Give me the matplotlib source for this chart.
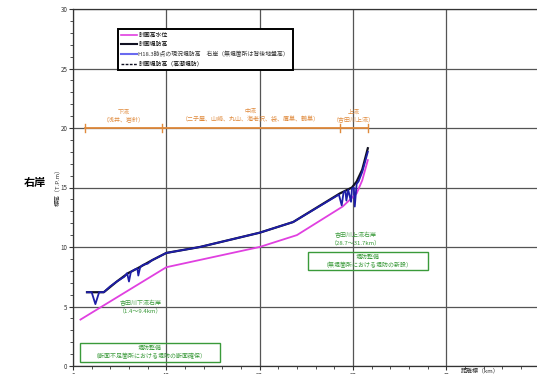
import matplotlib
matplotlib.use("Agg")
import matplotlib.pyplot as plt
from matplotlib.lines import Line2D
from matplotlib.patches import Rectangle
from matplotlib.ticker import MultipleLocator

plt.rcParams['font.family'] = ['Noto Sans CJK JP', 'DejaVu Sans']

# 計画高水位
wl_km = [0.8, 10.0, 20.0, 24.0, 28.9, 30.4, 31.0, 31.6]
wl_el = [3.9, 8.3, 10.0, 11.0, 13.4, 14.5, 15.6, 17.3]

# 計画堤防高
plan_km = [1.5, 3.3, 4.7, 5.9, 6.9, 8.5, 10.0, 13.6, 20.0, 23.6, 28.6, 29.9, 30.4, 31.0, 31.6]
plan_el = [6.2, 6.2, 7.1, 7.8, 8.2, 8.9, 9.5, 10.0, 11.2, 12.1, 14.5, 15.0, 15.5, 16.5, 18.3]

# H18.3時点の現況堤防高（右岸）
cur_km = [1.5, 2.0, 2.4, 2.8, 3.3, 4.0, 4.7, 5.5, 5.8, 6.0, 6.2, 6.6, 6.9, 7.0, 7.2,
          7.5, 8.0, 8.5, 9.0, 10.0, 13.6, 20.0, 23.6, 28.5, 28.8, 29.0, 29.2, 29.3,
          29.5, 29.8, 29.9, 30.1, 30.2, 30.4, 30.6, 31.0, 31.6]
cur_el = [6.2, 6.2, 5.2, 6.2, 6.2, 6.7, 7.1, 7.5, 7.8, 7.1, 7.9, 8.1, 8.2, 7.6, 8.3,
          8.5, 8.6, 8.9, 9.1, 9.5, 10.0, 11.2, 12.1, 14.4, 13.5, 14.6, 14.7, 13.9,
          14.8, 13.8, 14.9, 15.0, 13.4, 15.3, 15.5, 16.3, 18.0]

# 区間（下流・中流・上流）
reach_bounds = [1.3, 9.5, 28.6, 31.6]
reach_level = 20.0
reach_names = ["下流\n（浅井、岩針）",
               "中流\n（二子屋、山崎、丸山、海老沢、袋、鷹巣、鶴巣）",
               "上流\n（吉田川上流）"]

x_ticks = [0, 10, 20, 30, 40]
y_ticks = [0, 5, 10, 15, 20, 25, 30]

W, H = 537, 374
fig = plt.figure(figsize=(W / 100, H / 100), dpi=100)
x0, x1 = 73, 73 + 50 * 9.33
y0, y1 = 366, 9
ax = fig.add_axes([x0 / W, 1 - y0 / H, (x1 - x0) / W, (y0 - y1) / H])
ax.set_xlim(0, 50)
ax.set_ylim(0, 30)

ax.set_xticks(x_ticks)
ax.set_yticks(y_ticks)
ax.xaxis.set_minor_locator(MultipleLocator(2))
ax.yaxis.set_minor_locator(MultipleLocator(1))
ax.tick_params(axis='both', which='major', direction='out', length=3, width=0.8,
               labelsize=4.5, pad=1.0, colors='#333333')
ax.tick_params(axis='both', which='minor', direction='out', length=2, width=0.6,
               colors='#333333')
ax.grid(True, which='major', color='#555555', linewidth=0.9)
for s in ax.spines.values():
    s.set_color('#333333')
    s.set_linewidth(0.9)
ax.spines['right'].set_visible(False)

ax.plot(wl_km, wl_el, color='#e040e0', lw=1.3, zorder=3)
ax.plot(plan_km, plan_el, color='#111122', lw=1.6, zorder=4)
ax.plot(cur_km, cur_el, color='#1e1ea8', lw=1.3, zorder=5)

# 区間表示
orange = '#e08a3c'
ax.plot([reach_bounds[0], reach_bounds[-1]], [reach_level] * 2, color=orange, lw=1.3, zorder=3)
for b in reach_bounds:
    ax.plot([b, b], [reach_level - 0.35, reach_level + 0.35], color=orange, lw=1.0, zorder=3)
for i, name in enumerate(reach_names):
    xm = (reach_bounds[i] + reach_bounds[i + 1]) / 2
    ax.text(xm, reach_level + 0.45, name, color=orange, fontsize=4.3,
            ha='center', va='bottom', linespacing=1.4, zorder=6)

# 注記
green = '#3a9a3a'
ax.text(7.2, 5.0, "吉田川下流右岸\n（1.4～9.4km）", color=green, fontsize=4.3,
        ha='center', va='center', linespacing=1.3)
ax.text(30.3, 10.7, "吉田川上流右岸\n（28.7～31.7km）", color=green, fontsize=4.3,
        ha='center', va='center', linespacing=1.3)
ax.add_patch(Rectangle((0.75, 0.35), 15.0, 1.6, fill=False, edgecolor=green, lw=1.0,
                       zorder=6, clip_on=False))
ax.text(8.25, 1.15, "堤防整備\n（断面不足箇所における堤防の断面確保）", color=green,
        fontsize=4.3, ha='center', va='center', linespacing=1.4, zorder=6)
ax.add_patch(Rectangle((25.2, 8.05), 12.8, 1.55, fill=False, edgecolor=green, lw=1.0,
                       zorder=6))
ax.text(31.6, 8.82, "堤防整備\n（無堤箇所における堤防の新設）", color=green,
        fontsize=4.3, ha='center', va='center', linespacing=1.4, zorder=6)

# 凡例
handles = [
    Line2D([], [], color='#e040e0', lw=1.2),
    Line2D([], [], color='#111122', lw=1.5),
    Line2D([], [], color='#6a6af0', lw=1.5),
    Line2D([], [], color='#111122', lw=1.0, ls=(0, (2, 1))),
]
labels = ["計画高水位", "計画堤防高",
          "H18.3時点の現況堤防高　右岸（無堤箇所は背後地盤高）",
          "計画堤防高（高潮堤防）"]
leg = ax.legend(handles, labels, loc='upper left',
                bbox_to_anchor=(115 / W, 1 - 26 / H), bbox_transform=fig.transFigure,
                fontsize=4.2, handlelength=2.6, handletextpad=0.3, labelspacing=0.7,
                borderpad=0.6, frameon=True, fancybox=False, framealpha=1)
leg.get_frame().set_edgecolor('black')
leg.get_frame().set_linewidth(1.4)
leg.get_texts()[2].set_color('#333333')

fig.text(35 / W, 1 - 183 / H, "右岸", fontsize=8, fontweight='bold', ha='center', va='center')
fig.text(57 / W, 1 - 186 / H, "標高（T.P.m）", fontsize=4.3, rotation=90,
         ha='center', va='center', color='#333333')
fig.text(480 / W, 1 - 371 / H, "距離標（km）", fontsize=4.3, ha='center', va='center',
         color='#333333')

fig.savefig("out.png", dpi=100)
